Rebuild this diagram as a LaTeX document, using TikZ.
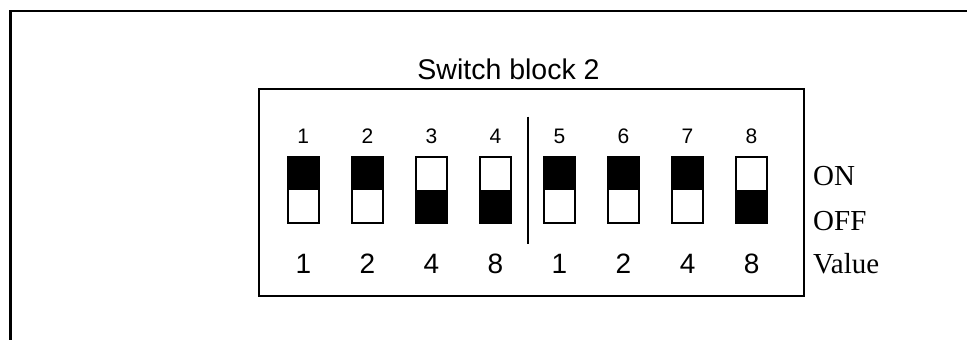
\documentclass[tikz,border=0pt]{standalone}
\usepackage{fontspec}
\setmainfont{Liberation Sans}
\newfontfamily\serifface{Liberation Serif}
\begin{document}
\begin{tikzpicture}[x=1pt,y=-1pt,
  frame/.style={line width=2.7pt},
  blockbox/.style={line width=2pt},
  sw/.style={draw,line width=2pt,minimum width=31.5pt,minimum height=66pt,inner sep=0pt,outer sep=0pt},
  swon/.style={sw,path picture={\fill[black] (path picture bounding box.north west) rectangle (path picture bounding box.east);}},
  swoff/.style={sw,path picture={\fill[black] (path picture bounding box.west) rectangle (path picture bounding box.south east);}},
  toplbl/.style={anchor=base,inner sep=0pt,font=\fontsize{21}{24}\selectfont},
  vallbl/.style={anchor=base,inner sep=0pt,font=\fontsize{28}{32}\selectfont},
  sidelbl/.style={anchor=base west,inner sep=0pt,font=\serifface\fontsize{29}{32}\selectfont},
  titlelbl/.style={anchor=base,inner sep=0pt,font=\fontsize{28.5}{32}\selectfont}]
\useasboundingbox (0,0) rectangle (967,340);
\clip (0,0) rectangle (967,340);
% outer frame (partially visible)
\coordinate (fb) at (10.3,345);
\coordinate (fc) at (10.3,11);
\coordinate (fr) at (975,11);
\draw[frame] (fb) -- (fc) -- (fr);
% block box
\node[blockbox,draw,minimum width=545pt,minimum height=207pt,inner sep=0pt] (box) at (531,192.5) {};
\node[titlelbl] (title) at (508.5,79) {Switch block 2};
% divider
\coordinate (dt) at (527.7,116.7);
\coordinate (db) at (527.7,244);
\draw[line width=2pt] (dt) -- (db);
% switches
\foreach \i/\st/\v in {1/swon/1,2/swon/2,3/swoff/4,4/swoff/8,5/swon/1,6/swon/2,7/swon/4,8/swoff/8}{
  \node[\st] (s\i) at ({303.3+64.04*(\i-1)},190) {};
  \node[toplbl] (n\i) at ({303.3+64.04*(\i-1)},143) {\i};
  \node[vallbl] (v\i) at ({303.3+64.04*(\i-1)},273) {\v};
}
\node[sidelbl] (on) at (813,185) {ON};
\node[sidelbl] (off) at (813,230) {OFF};
\node[sidelbl] (val) at (813,273) {Value};
\end{tikzpicture}
\end{document}
